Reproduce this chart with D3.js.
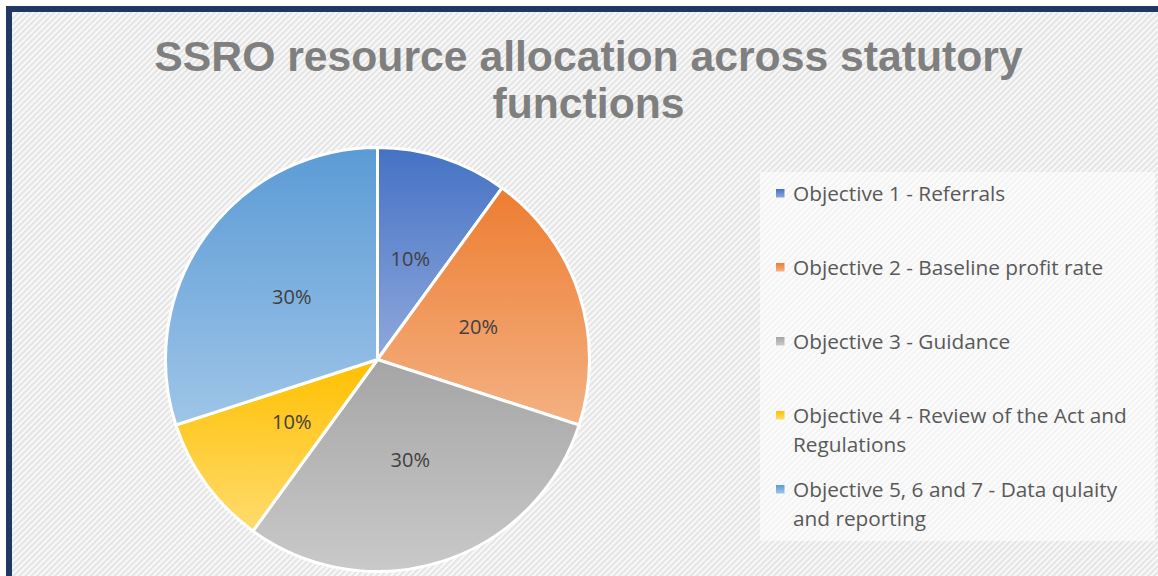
<!DOCTYPE html>
<html>
<head>
<meta charset="utf-8">
<script src="https://cdn.jsdelivr.net/npm/d3@7"></script>
<style>
  body { margin: 0; background: #fff; }
  svg { display: block; }
</style>
</head>
<body>
<div id="chart"></div>
<script>
// chart data
var titleLines = ['SSRO resource allocation across statutory', 'functions'];
var categories = [
    'Objective 1 - Referrals',
    'Objective 2 - Baseline profit rate',
    'Objective 3 - Guidance',
    'Objective 4 - Review of the Act and Regulations',
    'Objective 5, 6 and 7 - Data qulaity and reporting'
];
var values = [10, 20, 30, 10, 30];

// slice colours (gradient top -> bottom)
var topColors = ['#4472c4', '#ed7d31', '#a5a5a5', '#ffc000', '#5b9bd5'];
var bottomColors = ['#8fa8dc', '#f4b183', '#c9c9c9', '#ffdb6e', '#9fc5e8'];

var width = 1158,
    height = 576,
    cx = 377.5,
    cy = 359.5,
    radius = 212;

var svg = d3.select('#chart').append('svg')
    .attr('width', width)
    .attr('height', height);

var defs = svg.append('defs');

//  hatched background
var hatch = defs.append('pattern')
    .attr('id', 'hatch')
    .attr('patternUnits', 'userSpaceOnUse')
    .attr('width', 4.2)
    .attr('height', 4.2)
    .attr('patternTransform', 'rotate(45)');
hatch.append('rect').attr('width', 4.2).attr('height', 4.2).attr('fill', '#f8f8f8');
hatch.append('rect').attr('width', 2).attr('height', 4.2).attr('fill', '#e4e4e4');

topColors.forEach(function(c, i) {
    var g = defs.append('linearGradient')
        .attr('id', 'grad' + i)
        .attr('x1', 0).attr('y1', 0).attr('x2', 0).attr('y2', 1);
    g.append('stop').attr('offset', '0%').attr('stop-color', c);
    g.append('stop').attr('offset', '100%').attr('stop-color', bottomColors[i]);
});

svg.append('rect')
    .attr('x', 0).attr('y', 0)
    .attr('width', width).attr('height', height)
    .attr('fill', '#fff');

svg.append('rect')
    .attr('x', 6).attr('y', 6)
    .attr('width', width - 6).attr('height', height - 6)
    .attr('fill', 'url(#hatch)');

//  navy frame, top and left
svg.append('rect').attr('x', 6).attr('y', 6).attr('width', width - 6).attr('height', 6).attr('fill', '#1f3864');
svg.append('rect').attr('x', 6).attr('y', 6).attr('width', 6).attr('height', height - 6).attr('fill', '#1f3864');

//  title
svg.append('g').selectAll('text')
    .data(titleLines)
    .enter().append('text')
    .attr('x', 588.5)
    .attr('y', function(d, i) { return 70.5 + i * 47; })
    .attr('text-anchor', 'middle')
    .attr('font-family', 'Liberation Sans, Arial, sans-serif')
    .attr('font-weight', 'bold')
    .attr('font-size', 42.7)
    .attr('fill', '#7f7f7f')
    .text(function(d) { return d; });

//  pie
var pie = d3.pie().sort(null).value(function(d) { return d; });
var arc = d3.arc().innerRadius(0).outerRadius(radius);
var labelArc = d3.arc().innerRadius(radius * 0.5).outerRadius(radius * 0.5);
var total = d3.sum(values);

var slices = svg.append('g')
    .attr('transform', 'translate(' + cx + ',' + cy + ')')
    .selectAll('g.slice')
    .data(pie(values))
    .enter().append('g')
    .attr('class', 'slice');

slices.append('path')
    .attr('d', arc)
    .attr('fill', function(d, i) { return 'url(#grad' + i + ')'; })
    .attr('stroke', '#fff')
    .attr('stroke-width', 3)
    .attr('stroke-linejoin', 'round');

slices.append('text')
    .attr('transform', function(d) { return 'translate(' + labelArc.centroid(d) + ')'; })
    .attr('dy', '0.35em')
    .attr('text-anchor', 'middle')
    .attr('font-family', 'Open Sans, sans-serif')
    .attr('font-size', 20)
    .attr('fill', '#404040')
    .text(function(d) { return Math.round(d.value / total * 100) + '%'; });

//  legend
var legend = svg.append('g');
legend.append('rect')
    .attr('x', 760).attr('y', 172)
    .attr('width', 395).attr('height', 369)
    .attr('fill', '#fff')
    .attr('fill-opacity', 0.55);

var legendTop = [200.5, 274.5, 348.5, 422.5, 496.5],
    lineHeight = 29,
    maxTextWidth = 352;

var item = legend.selectAll('g.item')
    .data(categories)
    .enter().append('g')
    .attr('class', 'item');

item.append('rect')
    .attr('x', 776)
    .attr('y', function(d, i) { return legendTop[i] - 11.5; })
    .attr('width', 8.5).attr('height', 8.5)
    .attr('fill', function(d, i) { return 'url(#grad' + i + ')'; });

item.each(function(d, i) {
    var text = d3.select(this).append('text')
        .attr('font-family', 'Open Sans, sans-serif')
        .attr('font-size', 20.8)
        .attr('fill', '#595959');
    var words = d.split(' '), line = [], lineNo = 0;
    var tspan = text.append('tspan').attr('x', 793).attr('y', legendTop[i]);
    words.forEach(function(w) {
        line.push(w);
        tspan.text(line.join(' '));
        if (tspan.node().getComputedTextLength() > maxTextWidth && line.length > 1) {
            line.pop();
            tspan.text(line.join(' '));
            line = [w];
            lineNo++;
            tspan = text.append('tspan').attr('x', 793)
                .attr('y', legendTop[i] + lineNo * lineHeight)
                .text(w);
        }
    });
});
</script>
</body>
</html>
